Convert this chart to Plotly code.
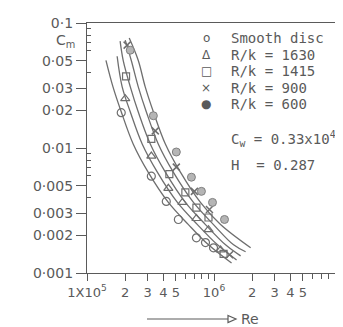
import plotly.graph_objects as go

# ---- data ----
re_line_smooth = [1.41e5, 1.60e5, 1.86e5, 2.31e5, 3.03e5, 4.37e5, 6.29e5, 9.05e5, 1.375e6]
cm_line_smooth = [0.0503, 0.0310, 0.0195, 0.01077, 0.00641, 0.00367, 0.00244, 0.00168, 0.00120]

re_line_1630 = [1.727e5, 1.89e5, 2.19e5, 2.72e5, 3.58e5, 5.15e5, 7.41e5, 1.066e6, 1.506e6]
cm_line_1630 = [0.0542, 0.0310, 0.0195, 0.01077, 0.00641, 0.00367, 0.00244, 0.00168, 0.00127]

re_line_1415 = [1.823e5, 1.927e5, 2.19e5, 2.53e5, 3.15e5, 4.14e5, 5.95e5, 8.57e5, 1.233e6, 1.62e6]
cm_line_1415 = [0.0716, 0.0503, 0.0310, 0.0195, 0.01077, 0.00641, 0.00367, 0.00244, 0.00168, 0.00137]

re_line_900 = [2.0e5, 2.23e5, 2.53e5, 2.93e5, 3.64e5, 4.78e5, 6.89e5, 9.91e5, 1.426e6, 1.774e6]
cm_line_900 = [0.0729, 0.0503, 0.0310, 0.0195, 0.01077, 0.00641, 0.00367, 0.00244, 0.00168, 0.00148]

re_line_600 = [2.15e5, 2.53e5, 2.87e5, 3.33e5, 4.14e5, 5.44e5, 7.82e5, 1.126e6, 1.943e6]
cm_line_600 = [0.0757, 0.0503, 0.0310, 0.0195, 0.01077, 0.00641, 0.00367, 0.00244, 0.00159]

re_pts_smooth = [1.86e5, 3.21e5, 4.21e5, 5.24e5, 7.27e5, 8.57e5, 9.91e5]
cm_pts_smooth = [0.01916, 0.00595, 0.00374, 0.00268, 0.00191, 0.00175, 0.00159]

re_pts_1630 = [2.0e5, 3.21e5, 4.37e5, 5.64e5, 7.27e5, 9.05e5, 1.126e6]
cm_pts_1630 = [0.0248, 0.00862, 0.00476, 0.00367, 0.00273, 0.00222, 0.00153]

re_pts_1415 = [2.03e5, 3.21e5, 4.45e5, 5.95e5, 7.27e5, 9.05e5, 1.19e6]
cm_pts_1415 = [0.0374, 0.01182, 0.00617, 0.00442, 0.00334, 0.00278, 0.00142]

re_pts_900 = [2.07e5, 3.45e5, 5.05e5, 7.01e5, 9.21e5, 1.326e6]
cm_pts_900 = [0.0665, 0.01371, 0.00703, 0.0045, 0.00322, 0.0014]

re_pts_600 = [2.19e5, 3.33e5, 5.05e5, 6.64e5, 7.96e5, 9.73e5, 1.21e6]
cm_pts_600 = [0.0606, 0.01812, 0.00929, 0.00584, 0.0045, 0.00367, 0.00268]

y_tickvals = [0.001, 0.002, 0.003, 0.005, 0.01, 0.02, 0.03, 0.05, 0.1]
y_ticktext = ["0·001", "0·002", "0·003", "0·005", "0·01", "0·02", "0·03", "0·05", "0·1"]
y_minor = [0.004, 0.006, 0.007, 0.008, 0.009, 0.04, 0.06, 0.07, 0.08, 0.09]

x_tickvals = [1e5, 2e5, 3e5, 4e5, 5e5, 1e6, 2e6, 3e6, 4e6, 5e6, 1e7]
x_ticktext = ["1X10<sup>5</sup>", "2", "3", "4", "5", "10<sup>6</sup>", "2", "3", "4", "5", "10<sup>7</sup>"]
x_minor = [6e5, 7e5, 8e5, 9e5, 6e6, 7e6, 8e6, 9e6]

legend_symbols = ["o", "Δ", "□", "×", "●"]
legend_labels = ["Smooth disc", "R/k = 1630", "R/k = 1415", "R/k = 900", "R/k = 600"]
param_lines = ["C<sub>w</sub> = 0.33x10<sup>4</sup>", "H  = 0.287"]

INK = "#5a5a5a"
LINE = "#6e6e6e"

fig = go.Figure()

for xs, ys in [(re_line_smooth, cm_line_smooth), (re_line_1630, cm_line_1630),
               (re_line_1415, cm_line_1415), (re_line_900, cm_line_900),
               (re_line_600, cm_line_600)]:
    fig.add_trace(go.Scatter(x=xs, y=ys, mode="lines",
                             line=dict(color=LINE, width=1.3, shape="spline", smoothing=1.0),
                             showlegend=False, hoverinfo="skip"))

marker_sets = [
    (re_pts_smooth, cm_pts_smooth, dict(symbol="circle-open", size=8, color=LINE, line=dict(width=1.2))),
    (re_pts_1630, cm_pts_1630, dict(symbol="triangle-up-open", size=8, color=LINE, line=dict(width=1.2))),
    (re_pts_1415, cm_pts_1415, dict(symbol="square-open", size=7, color=LINE, line=dict(width=1.2))),
    (re_pts_900, cm_pts_900, dict(symbol="x-thin-open", size=7, color=LINE, line=dict(width=1.5))),
    (re_pts_600, cm_pts_600, dict(symbol="circle", size=8, color="#b5b5b5", line=dict(width=1, color="#808080"))),
]
for xs, ys, mk in marker_sets:
    fig.add_trace(go.Scatter(x=xs, y=ys, mode="markers", marker=mk, showlegend=False, hoverinfo="skip"))

W, H = 343, 327
L, R, T, B = 79, 10, 15, 62
pw, ph = W - L - R, H - T - B

def px(x):
    return (x - L) / pw

def py(y):
    return (H - B - y) / ph

ann = []
font_leg = dict(family="DejaVu Sans Mono", size=14, color=INK)
leg_y = [30, 46.5, 63, 79.5, 96]
for s, lab, yy in zip(legend_symbols, legend_labels, leg_y):
    ann.append(dict(x=px(198), y=py(yy), xref="paper", yref="paper", text=s, showarrow=False, borderpad=0,
                    xanchor="center", yanchor="middle", font=dict(family="DejaVu Sans", size=12, color=INK)))
    ann.append(dict(x=px(222), y=py(yy), xref="paper", yref="paper", text=lab, showarrow=False, borderpad=0,
                    xanchor="left", yanchor="middle", font=font_leg))
for txt, yy in zip(param_lines, [131, 157]):
    ann.append(dict(x=px(222), y=py(yy), xref="paper", yref="paper", text=txt, showarrow=False, borderpad=0,
                    xanchor="left", yanchor="middle", font=font_leg))
ann.append(dict(x=px(57), y=py(33), xref="paper", yref="paper", text="C<sub>m</sub>", showarrow=False,
                xanchor="center", yanchor="middle", font=dict(family="DejaVu Sans", size=14, color=INK)))
ann.append(dict(x=px(231), y=py(311), xref="paper", yref="paper", text="Re", showarrow=False,
                xanchor="left", yanchor="middle", font=dict(family="DejaVu Sans", size=14, color=INK)))
fig.update_layout(annotations=ann)

fig.add_shape(type="line", xref="paper", yref="paper", x0=px(139), x1=px(220), y0=py(311), y1=py(311),
              line=dict(color=INK, width=1.2))
tri = "M {},{} L {},{} L {},{} Z".format(px(220), py(307.5), px(228), py(311), px(220), py(314.5))
fig.add_shape(type="path", xref="paper", yref="paper", path=tri, line=dict(color=INK, width=1.2),
              fillcolor="white")

fig.update_xaxes(type="log", range=[5, 7], tickvals=x_tickvals, ticktext=x_ticktext, automargin=False,
                 ticks="outside", ticklen=7, tickcolor=INK, tickwidth=1.2,
                 showline=True, linecolor=INK, linewidth=1.3, mirror=True, showgrid=False, zeroline=False,
                 tickfont=dict(family="DejaVu Sans", size=13, color=INK),
                 minor=dict(tickvals=x_minor, ticks="outside", ticklen=5, tickcolor=INK, showgrid=False))
fig.update_yaxes(type="log", range=[-3, -1], tickvals=y_tickvals, ticktext=y_ticktext, automargin=False,
                 ticks="outside", ticklen=10, tickcolor=INK, tickwidth=1.2,
                 showline=True, linecolor=INK, linewidth=1.3, mirror=True, showgrid=False, zeroline=False,
                 tickfont=dict(family="DejaVu Sans", size=14, color=INK),
                 minor=dict(tickvals=y_minor, ticks="inside", ticklen=4, tickcolor=INK, showgrid=False))

fig.update_layout(width=W, height=H, margin=dict(l=L, r=R, t=T, b=B),
                  plot_bgcolor="white", paper_bgcolor="white", showlegend=False)

fig.write_html("out.html")
